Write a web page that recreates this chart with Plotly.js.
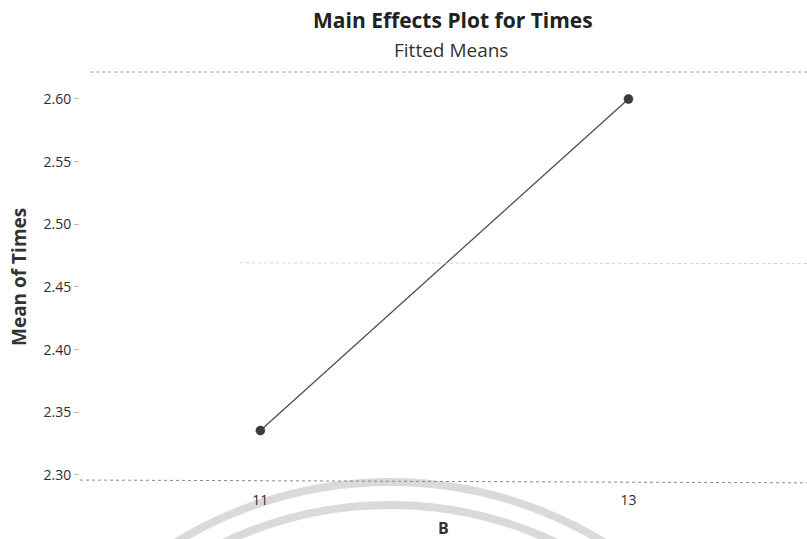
<!DOCTYPE html>
<html>
<head>
<meta charset="utf-8">
<script src="https://cdn.plot.ly/plotly-3.0.1.min.js"></script>
<style>html,body{margin:0;padding:0;background:#fff;}#chart{width:807px;height:539px;}</style>
</head>
<body>
<div id="chart"></div>
<script>
const levelsB = [11, 13];
const fittedMeans = [2.3355, 2.6000];
const yTickValues = [2.30, 2.35, 2.40, 2.45, 2.50, 2.55, 2.60];
const yTickLabels = ["2.30", "2.35", "2.40", "2.45", "2.50", "2.55", "2.60"];
const xTickLabels = ["11", "13"];

const trace = {
  x: levelsB,
  y: fittedMeans,
  type: 'scatter',
  mode: 'lines+markers',
  line: {color: '#46524e', width: 1.3},
  marker: {color: '#3a3d3c', size: 9, line: {color: '#222', width: 0.5}},
  hoverinfo: 'skip'
};

// pixel -> paper helpers for decorative shapes
const L = 80, T = 72, W = 727, H = 406;
const px = v => (v - L) / W;
const py = v => (T + H - v) / H;

const layout = {
  width: 807, height: 539,
  margin: {l: 80, r: 0, t: 72, b: 61},
  paper_bgcolor: '#ffffff',
  plot_bgcolor: '#ffffff',
  showlegend: false,
  font: {family: 'Open Sans, Noto Sans, sans-serif', color: '#333'},
  xaxis: {
    range: [10.02, 13.97],
    tickvals: levelsB,
    ticktext: xTickLabels,
    ticks: '',
    showgrid: false,
    zeroline: false,
    showline: false,
    ticklabelstandoff: 12,
    tickfont: {size: 14, color: '#2e2e2e'}
  },
  yaxis: {
    range: [2.2976, 2.6215],
    tickvals: yTickValues,
    ticktext: yTickLabels,
    ticks: 'outside',
    ticklen: 5,
    tickcolor: '#bbb',
    showgrid: false,
    zeroline: false,
    showline: false,
    tickfont: {size: 14, color: '#2e2e2e'}
  },
  shapes: [
    {type: 'circle', xref: 'paper', yref: 'paper', layer: 'below',
     x0: px(390 - 410), x1: px(390 + 410), y0: py(892 + 410), y1: py(892 - 410),
     line: {color: '#dadada', width: 8}},
    {type: 'circle', xref: 'paper', yref: 'paper', layer: 'below',
     x0: px(390 - 387), x1: px(390 + 387), y0: py(892 + 387), y1: py(892 - 387),
     line: {color: '#dadada', width: 8}},
    {type: 'line', xref: 'paper', yref: 'paper', x0: 0.014, x1: 1, y0: 1, y1: 1,
     line: {color: '#9a9a9a', width: 1, dash: 'dot'}},
    {type: 'line', xref: 'paper', yref: 'paper', x0: 0, x1: 1, y0: -0.005, y1: -0.012,
     line: {color: '#8a8a8a', width: 1, dash: 'dot'}},
    {type: 'line', xref: 'paper', yref: 'paper', x0: 0.22, x1: 1, y0: 0.53, y1: 0.528,
     line: {color: '#d0d0d0', width: 1, dash: 'dot'}}
  ],
  annotations: [
    {text: '<b>Main Effects Plot for Times</b>', xref: 'paper', yref: 'paper',
     x: px(453), y: py(20), showarrow: false, xanchor: 'center', yanchor: 'middle',
     font: {size: 21, color: '#222'}},
    {text: 'Fitted Means', xref: 'paper', yref: 'paper',
     x: px(451), y: py(50), showarrow: false, xanchor: 'center', yanchor: 'middle',
     font: {size: 19, color: '#333'}},
    {text: '<b>Mean of Times</b>', xref: 'paper', yref: 'paper',
     x: px(19), y: py(277), textangle: -90, showarrow: false, xanchor: 'center', yanchor: 'middle',
     font: {size: 19, color: '#333'}},
    {text: '<b>B</b>', xref: 'paper', yref: 'paper',
     x: px(443), y: py(528), showarrow: false, xanchor: 'center', yanchor: 'middle',
     font: {size: 16, color: '#333'}}
  ]
};

Plotly.newPlot('chart', [trace], layout, {displayModeBar: false, staticPlot: true});
</script>
</body>
</html>
